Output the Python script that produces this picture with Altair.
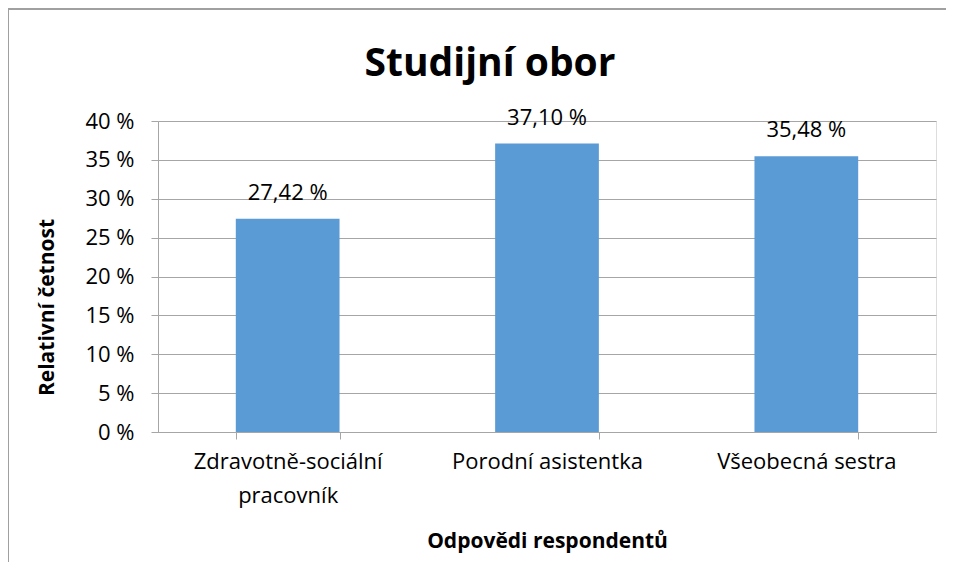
import altair as alt
import pandas as pd

categories = ["Zdravotně-sociální pracovník", "Porodní asistentka", "Všeobecná sestra"]
values = [27.42, 37.10, 35.48]
y_ticks = [0, 5, 10, 15, 20, 25, 30, 35, 40]
chart_title = "Studijní obor"

FONT = "Open Sans"
W, H = 778, 311
PL, PT = 150, 113

df = pd.DataFrame({
    "cat": categories,
    "val": values,
    "label": [f"{v:.2f}".replace(".", ",") + " %" for v in values],
})

x_enc = alt.X(
    "cat:N", sort=categories,
    scale=alt.Scale(paddingInner=0.6, paddingOuter=0.3),
    axis=alt.Axis(
        title="Odpovědi respondentů",
        labelAngle=0, labelLimit=0,
        labelExpr="datum.value == 'Zdravotně-sociální pracovník' ? ['Zdravotně-sociální', 'pracovník'] : datum.value",
        tickBand="extent",
        labelFontSize=22, labelFont=FONT, labelColor="#000", labelPadding=12,
        labelLineHeight=34,
        titleFontSize=21, titleFont=FONT, titleFontWeight="bold", titleColor="#000",
        titlePadding=24,
        domainColor="#a6a6a6", tickColor="#a6a6a6", tickSize=7,
    ),
)
y_enc = alt.Y(
    "val:Q",
    scale=alt.Scale(domain=[0, 40]),
    axis=alt.Axis(
        title="Relativní četnost",
        values=y_ticks,
        labelExpr="datum.value + ' %'",
        labelFontSize=22, labelFont=FONT, labelColor="#000", labelPadding=17,
        titleFontSize=21, titleFont=FONT, titleFontWeight="bold", titleColor="#000",
        titlePadding=27, titleY=186,
        domainColor="#a6a6a6", tickColor="#a6a6a6", tickSize=7,
        gridColor="#a6a6a6", gridWidth=1,
    ),
)

base = alt.Chart(df).encode(x=x_enc, y=y_enc)
bars = base.mark_bar(color="#5b9bd5")
texts = base.mark_text(
    baseline="bottom", dy=-14, fontSize=22, font=FONT, color="#000"
).encode(text="label:N")

title_mark = alt.Chart(pd.DataFrame({"t": [chart_title]})).mark_text(
    fontSize=39, font=FONT, fontWeight="bold", color="#000",
    align="center", baseline="alphabetic",
).encode(x=alt.value(332), y=alt.value(-45), text="t:N")

frame_top = alt.Chart(df).mark_rule(color="#a0a0a0", strokeWidth=2).encode(
    x=alt.value(-PL), x2=alt.value(W + 20), y=alt.value(-PT + 1)
)
frame_left = alt.Chart(df).mark_rule(color="#a0a0a0", strokeWidth=2).encode(
    x=alt.value(-PL), y=alt.value(-PT + 1), y2=alt.value(H + 200)
)

chart = alt.layer(bars, texts, title_mark, frame_top, frame_left).properties(
    width=W, height=H,
    autosize=alt.AutoSizeParams(type="none"),
    padding={"left": PL, "top": PT, "right": 10, "bottom": 130},
).configure_view(stroke=None).configure(background="white")

chart.save("out.html", embed_options={"renderer": "svg", "actions": False})
